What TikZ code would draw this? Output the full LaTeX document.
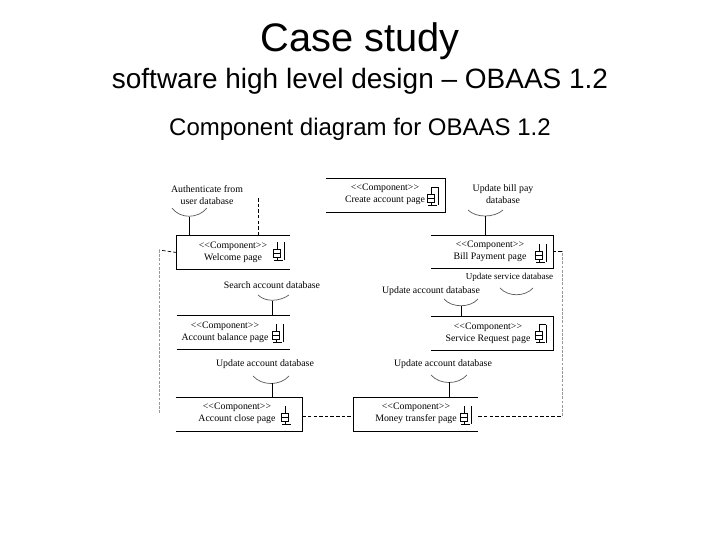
\documentclass[tikz,border=0pt]{standalone}
\usepackage{fontspec}
\setmainfont{Liberation Sans}
\newfontfamily\umlfont{Liberation Serif}
\usepackage{xcolor}
\newcommand{\compicon}[2]{%
\draw[iconline] (#1,#2-9) -- (#1,#2+9);
\draw[iconline,fill=white] (#1-4,#2-2) rectangle (#1+3,#2+2);
\draw[iconline,fill=white] (#1-4,#2+2) rectangle (#1+3,#2+6);
\draw[iconline] (#1-3,#2+9) -- (#1+6,#2+9);
}
\newcommand{\compbar}[2]{%
\draw[iconline] (#1+7,#2-9) -- (#1+7,#2+9);
}
\newcommand{\comptop}[2]{%
\draw[iconline] (#1,#2-9) -- (#1+7,#2-9);
}
\begin{document}
\begin{tikzpicture}[x=0.025cm,y=-0.025cm,line cap=butt,
  comptext/.style={font=\umlfont\fontsize{7}{8.5}\selectfont,align=center,inner sep=0pt},
  ifacetext/.style={font=\umlfont\fontsize{7}{8.5}\selectfont,align=center,inner sep=0pt},
  boxarea/.style={minimum width=#1*0.025cm,minimum height=0.825cm,inner sep=0pt,draw=none},
  boxline/.style={line width=0.6pt},
  stem/.style={line width=0.6pt},
  socket/.style={line width=0.5pt,gray!70!black},
  depline/.style={line width=0.5pt,dash pattern=on 2.5pt off 1.5pt},
  greydep/.style={line width=0.6pt,gray!80,dash pattern=on 2pt off 1pt},
  iconline/.style={line width=0.5pt}]
\useasboundingbox (0,0) rectangle (720,540);
% titles
\node[font=\fontsize{28.3}{32}\selectfont,inner sep=0pt] (title) at (360,41) {Case study};
\node[font=\fontsize{19.9}{24}\selectfont,inner sep=0pt] (subtitle) at (360,81) {software high level design – OBAAS 1.2};
\node[font=\fontsize{17.07}{20}\selectfont,inner sep=0pt] (caption) at (360,129) {Component diagram for OBAAS 1.2};
% component boxes
\node[boxarea=113] (welcome) at (233.5,252.5) {};
\node[boxarea=113] (balance) at (233.5,332.5) {};
\node[boxarea=126] (close) at (239,414.5) {};
\node[boxarea=119] (create) at (385.5,195.5) {};
\node[boxarea=122] (bill) at (492,252) {};
\node[boxarea=122] (service) at (492,333.5) {};
\node[boxarea=124] (money) at (416,414.5) {};
\draw[boxline] (welcome.north east) -- (welcome.north west) -- (welcome.south west) -- (welcome.south east);
\draw[boxline] (balance.north west) -- (balance.north east);
\draw[boxline] (balance.south west) -- (balance.south east);
\draw[boxline] (close.north west) -- (close.north east) -- (close.south east) -- (close.south west);
\draw[boxline] (create.north west) -- (create.north east) -- (create.south east) -- (create.south west);
\draw[boxline] (bill.north west) -- (bill.north east) -- (bill.south east) -- (bill.south west);
\draw[boxline] (service.north west) -- (service.north east) -- (service.south east) -- (service.south west);
\draw[boxline] (money.north east) -- (money.north west) -- (money.south west) -- (money.south east);
\node[comptext] (welcometext) at (233,252) {<{}<Component>{}>\\Welcome page};
\node[comptext] (balancetext) at (225,332) {<{}<Component>{}>\\Account balance page};
\node[comptext] (closetext) at (237,413) {<{}<Component>{}>\\Account close page};
\node[comptext] (createtext) at (385,194.5) {<{}<Component>{}>\\Create account page};
\node[comptext] (billtext) at (490,251) {<{}<Component>{}>\\Bill Payment page};
\node[comptext] (servicetext) at (488,333) {<{}<Component>{}>\\Service Request page};
\node[comptext] (moneytext) at (416,413) {<{}<Component>{}>\\Money transfer page};
% icons
\compicon{277}{251}\compbar{277}{251}
\compicon{276}{333}\compbar{276}{333}
\compicon{285}{415}
\compicon{431}{196}\compbar{431}{196}\comptop{431}{196}
\compicon{539}{253}\compbar{539}{253}
\compicon{539}{333.5}\compbar{539}{333.5}\comptop{539}{333.5}
\compicon{464}{415}\compbar{464}{415}
% interfaces
\node[ifacetext] (authlabel) at (207,195) {Authenticate from\\user database};
\node[ifacetext] (searchlabel) at (272,285) {Search account database};
\node[ifacetext] (updleftlabel) at (265,364.5) {Update account database};
\node[ifacetext] (billlabel) at (503,194.5) {Update bill pay\\database};
\node[ifacetext,scale=0.92] (srvlabel) at (509.5,277) {Update service database};
\node[ifacetext] (updrightlabel) at (431,291) {Update account database};
\node[ifacetext] (updlowlabel) at (443,364.5) {Update account database};
% sockets and stems
\coordinate (authsock) at (189,217);
\coordinate (searchsock) at (272,301);
\coordinate (updleftsock) at (272,383);
\coordinate (billsock) at (485,216);
\coordinate (updrightsock) at (461,306);
\coordinate (updlowsock) at (449,382);
\draw[socket] (172,208) .. controls (180,219) and (198,219) .. (207,208);
\draw[socket] (258,295) .. controls (265,302) and (279,302) .. (289,295);
\draw[socket] (253,376) .. controls (262,386) and (280,386) .. (289,376);
\draw[socket] (468,210) .. controls (476,218) and (494,218) .. (503,210);
\draw[socket] (500,288) .. controls (508,297) and (525,297) .. (533,288);
\draw[socket] (444,299) .. controls (452,308) and (470,308) .. (478,299);
\draw[socket] (431,375) .. controls (440,385) and (458,385) .. (467,375);
\draw[stem] (authsock) -- (authsock |- welcome.north);
\draw[stem] (searchsock) -- (searchsock |- balance.north);
\draw[stem] (updleftsock) -- (updleftsock |- close.north);
\draw[stem] (billsock) -- (billsock |- bill.north);
\draw[stem] (updrightsock) -- (updrightsock |- service.north);
\draw[stem] (updlowsock) -- (updlowsock |- money.north);
% dependencies
\coordinate (authdep) at (258,198);
\coordinate (leftdep) at (159,414);
\coordinate (rightcorner) at (562,416);
\draw[depline] (authdep) -- (authdep |- welcome.north);
\draw[depline] (welcome.west) -- (159,250);
\draw[greydep] (159,250) -- (leftdep);
\draw[depline] (close.east |- 0,416) -- (money.west |- 0,416);
\draw[depline] (money.east |- 0,416) -- (rightcorner);
\draw[greydep] (rightcorner) -- (562,251);
\draw[depline] (562,251) -- (bill.east |- 0,251);
\end{tikzpicture}
\end{document}
